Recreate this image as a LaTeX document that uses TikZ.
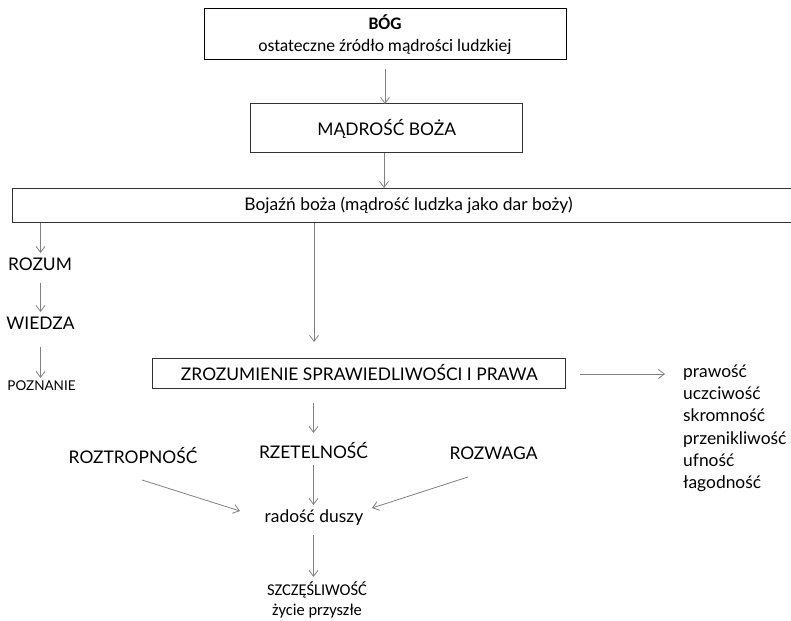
\documentclass[tikz,border=0pt]{standalone}
\usepackage{fontspec}
\setmainfont{Lato}
\newfontfamily\calib{Carlito}
\usetikzlibrary{arrows.meta}
\newcommand\fs{\fontsize{17.4}{21}\selectfont}
\tikzset{
  box/.style={draw=black!80, line width=1pt, inner sep=0pt, anchor=center, font=\fs},
  lbl/.style={inner sep=0pt, anchor=center, font=\fs},
  arr/.style={draw=black!50, line width=0.8pt, -{Straight Barb[length=6pt,width=9pt]}},
}
\begin{document}
\begin{tikzpicture}[x=1pt,y=-1pt]
\useasboundingbox (0,0) rectangle (791,620);
% boxes
\node[box, draw=black, minimum width=362, minimum height=51, align=center,
  font=\calib\fontsize{17.6}{22}\selectfont] (bog) at (385,34.5)
  {\textbf{BÓG}\\ ostateczne źródło mądrości ludzkiej};
\node[box, minimum width=272, minimum height=49] (madr) at (386.7,128.5) {MĄDROŚĆ BOŻA};
\node[box, minimum width=793, minimum height=34.7] (boj) at (408.5,205.4) {Bojaźń boża (mądrość ludzka jako dar boży)};
\node[box, minimum width=413, minimum height=30] (zroz) at (359.3,373) {ZROZUMIENIE SPRAWIEDLIWOŚCI I PRAWA};
% left column
\node[lbl] (rozum) at (40,264) {ROZUM};
\node[lbl] (wiedza) at (40.5,323) {WIEDZA};
\node[lbl, font=\fontsize{13.5}{16}\selectfont] (pozn) at (41.5,386) {POZNANIE};
% middle
\node[lbl] (rzet) at (313.5,451) {RZETELNOŚĆ};
\node[lbl] (roztr) at (133,456) {ROZTROPNOŚĆ};
\node[lbl] (rozw) at (493.5,453) {ROZWAGA};
\node[lbl] (rad) at (314,518) {radość duszy};
\node[lbl, align=center, font=\calib\fontsize{16.5}{20}\selectfont] (szcz) at (317,600) {SZCZĘŚLIWOŚĆ\\życie przyszłe};
% list
\node[lbl, anchor=north west, align=left, font=\fontsize{17.4}{22.3}\selectfont] (lista) at (683,364.5)
  {prawość\\uczciwość\\skromność\\przenikliwość\\ufność\\łagodność};
% coordinates
\coordinate (a1s) at (385,69); \coordinate (a1e) at (385,104);
\coordinate (a2s) at (384,153); \coordinate (a2e) at (384,188);
\coordinate (l1s) at (40.5,223); \coordinate (l1e) at (40.5,253);
\coordinate (l2s) at (40.5,283); \coordinate (l2e) at (40.5,312);
\coordinate (l3s) at (40.5,347); \coordinate (l3e) at (40.5,378);
\coordinate (m1s) at (314,223); \coordinate (m1e) at (314,342);
\coordinate (rs) at (580,374); \coordinate (re) at (665,374);
\coordinate (m2s) at (313.5,403); \coordinate (m2e) at (313.5,433);
\coordinate (m3s) at (313.5,465); \coordinate (m3e) at (313.5,505);
\coordinate (d1s) at (142,480); \coordinate (d1e) at (240,511);
\coordinate (d2s) at (468,477); \coordinate (d2e) at (372,508);
\coordinate (m4s) at (313.5,535); \coordinate (m4e) at (313.5,577);
% arrows
\draw[arr] (a1s) -- (a1e);
\draw[arr] (a2s) -- (a2e);
\draw[arr] (l1s) -- (l1e);
\draw[arr] (l2s) -- (l2e);
\draw[arr] (l3s) -- (l3e);
\draw[arr] (m1s) -- (m1e);
\draw[arr] (rs) -- (re);
\draw[arr] (m2s) -- (m2e);
\draw[arr] (m3s) -- (m3e);
\draw[arr] (d1s) -- (d1e);
\draw[arr] (d2s) -- (d2e);
\draw[arr] (m4s) -- (m4e);
\end{tikzpicture}
\end{document}
